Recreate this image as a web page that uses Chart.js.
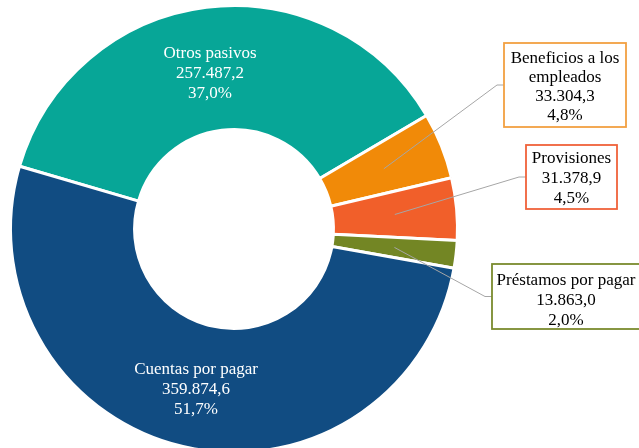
<!DOCTYPE html>
<html>
<head>
<meta charset="utf-8">
<script src="https://cdn.jsdelivr.net/npm/chart.js@4/dist/chart.umd.min.js"></script>
<style>
  html, body { margin: 0; padding: 0; background: #ffffff; overflow: hidden; }
  #wrap { position: absolute; left: 0; top: 0; width: 639px; height: 460px; }
</style>
</head>
<body>
<div id="wrap"><canvas id="c" width="639" height="460"></canvas></div>
<script>
// ---- Data ----
const categories = ["Otros pasivos", "Beneficios a los empleados", "Provisiones", "Préstamos por pagar", "Cuentas por pagar"];
const labelLines = [["Otros pasivos"], ["Beneficios a los", "empleados"], ["Provisiones"], ["Préstamos por pagar"], ["Cuentas por pagar"]];
const values = [257487.2, 33304.3, 31378.9, 13863.0, 359874.6];
const percents = [37.0, 4.8, 4.5, 2.0, 51.7];

// ---- Styles ----
const colors = ["#07A697", "#F18A08", "#F15F2A", "#738624", "#114C82"];
const boxBorders = [null, "#F2A042", "#F0623A", "#7A8B2E", null];

// Layout of callout boxes (index -> box rect); other labels sit inside the ring
const callouts = {
  1: { x: 504, y: 43, w: 122, h: 84, lh: 19, dy: 2 },
  2: { x: 526, y: 145, w: 91, h: 64, lh: 20, dy: 2 },
  3: { x: 492, y: 264, w: 148, h: 65, lh: 20, dy: 4 }
};
const innerOffsets = { 0: { dx: -4, dy: 5 }, 4: { dx: -1, dy: 3 } };

function fmtNum(v) {
  const parts = v.toFixed(1).split(".");
  const intPart = parts[0].replace(/\B(?=(\d{3})+(?!\d))/g, ".");
  return intPart + "," + parts[1];
}
function fmtPct(p) { return p.toFixed(1).replace(".", ",") + "%"; }

const labelPlugin = {
  id: "sliceLabels",
  afterDatasetsDraw(chart) {
    const ctx = chart.ctx;
    const meta = chart.getDatasetMeta(0);
    ctx.save();
    ctx.font = '17px "Liberation Serif", "Times New Roman", serif';
    ctx.textAlign = "center";
    ctx.textBaseline = "middle";
    meta.data.forEach((arc, i) => {
      const pos = arc.tooltipPosition(false);
      const lines = labelLines[i].concat([fmtNum(values[i]), fmtPct(percents[i])]);
      const box = callouts[i];
      if (box) {
        const cy = box.y + box.h / 2;
        const elbowX = box.x - 7;
        ctx.strokeStyle = "#A6A6A6";
        ctx.lineWidth = 1;
        ctx.beginPath();
        ctx.moveTo(pos.x, pos.y);
        ctx.lineTo(elbowX, cy);
        ctx.lineTo(box.x, cy);
        ctx.stroke();
        ctx.fillStyle = "#ffffff";
        ctx.fillRect(box.x, box.y, box.w, box.h);
        ctx.strokeStyle = boxBorders[i];
        ctx.lineWidth = 1.8;
        ctx.strokeRect(box.x, box.y, box.w, box.h);
        ctx.fillStyle = "#000000";
        const cx = box.x + box.w / 2;
        lines.forEach((t, k) => {
          ctx.fillText(t, cx, cy + box.dy + (k - (lines.length - 1) / 2) * box.lh);
        });
      } else {
        const off = innerOffsets[i] || { dx: 0, dy: 0 };
        ctx.fillStyle = "#ffffff";
        const lh = 20;
        lines.forEach((t, k) => {
          ctx.fillText(t, pos.x + off.dx, pos.y + off.dy + (k - (lines.length - 1) / 2) * lh);
        });
      }
    });
    ctx.restore();
  }
};

new Chart(document.getElementById("c"), {
  type: "doughnut",
  data: {
    labels: categories,
    datasets: [{
      data: values,
      backgroundColor: colors,
      borderColor: "#ffffff",
      borderWidth: 3,
      hoverOffset: 0
    }]
  },
  options: {
    responsive: false,
    devicePixelRatio: 1,
    animation: false,
    rotation: -73.7,
    cutout: "44.5%",
    layout: { padding: { left: 9, top: 4, right: 180, bottom: 6 } },
    plugins: {
      legend: { display: false },
      tooltip: { enabled: false }
    },
    events: []
  },
  plugins: [labelPlugin]
});
</script>
</body>
</html>
